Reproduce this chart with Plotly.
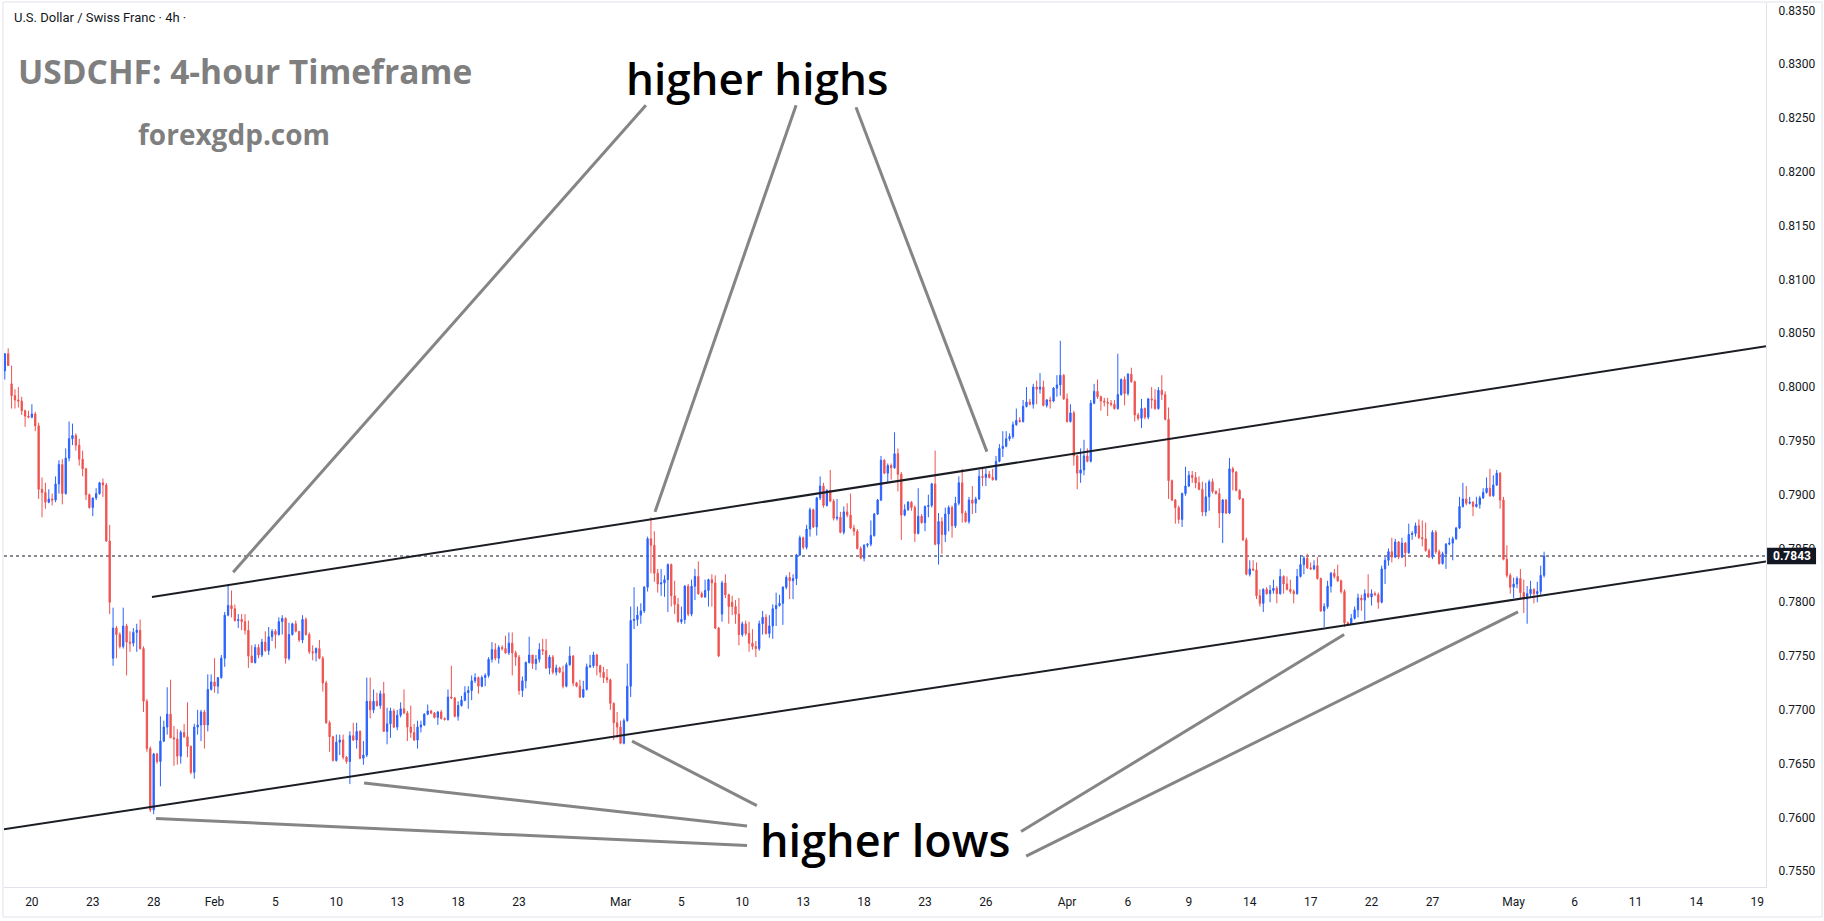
import plotly.graph_objects as go

# ---------------- data (USDCHF 4h candles, price in pips: 7843 -> 0.7843) ----------------
open_pips = [
8015,8031,8003,7992,7988,7987,7978,7973,7972,7975, 7964,7905,7902,7893,7896,7895,7910,7928,7901,7934,
7952,7955,7946,7933,7924,7900,7888,7897,7901,7911, 7909,7857,7748,7776,7770,7759,7778,7763,7762,7772,
7774,7757,7708,7664,7607,7659,7652,7671,7684,7696, 7674,7673,7657,7679,7675,7666,7642,7684,7686,7698,
7686,7719,7726,7722,7730,7748,7788,7797,7794,7783, 7784,7782,7774,7750,7744,7758,7751,7763,7755,7768,
7773,7770,7782,7785,7748,7770,7780,7773,7765,7784, 7770,7754,7753,7757,7748,7725,7688,7675,7653,7670,
7672,7656,7652,7676,7672,7680,7655,7658,7708,7700, 7708,7704,7715,7680,7687,7699,7684,7695,7701,7697,
7684,7679,7672,7684,7686,7696,7699,7697,7693,7698, 7692,7691,7712,7711,7694,7704,7709,7716,7718,7727,
7730,7722,7730,7732,7747,7756,7748,7758,7757,7753, 7762,7753,7749,7718,7727,7744,7751,7743,7747,7756,
7755,7739,7749,7735,7739,7735,7722,7742,7750,7725, 7722,7712,7719,7740,7741,7751,7741,7735,7730,7728,
7706,7688,7684,7669,7690,7722,7783,7784,7788,7792, 7814,7859,7853,7827,7817,7818,7821,7835,7806,7798,
7782,7784,7815,7789,7815,7824,7808,7805,7811,7821, 7818,7776,7789,7818,7807,7800,7796,7789,7770,7780,
7771,7762,7759,7757,7780,7786,7771,7778,7794,7797, 7799,7814,7823,7820,7822,7844,7860,7851,7868,7886,
7870,7897,7908,7890,7904,7894,7878,7879,7865,7884, 7881,7869,7866,7850,7841,7853,7854,7862,7882,7895,
7932,7920,7927,7925,7938,7919,7881,7886,7893,7888, 7864,7880,7874,7889,7890,7910,7854,7875,7863,7882,
7888,7871,7892,7911,7883,7875,7895,7892,7896,7917, 7916,7919,7916,7914,7931,7943,7945,7952,7954,7965,
7969,7968,7982,7986,7984,8000,7998,8000,7983,7988, 7987,7999,8002,8011,7989,7968,7976,7936,7920,7923,
7936,7931,7985,7996,7991,7987,7986,7985,7984,7980, 7993,8007,7994,8012,8005,7974,7971,7980,7972,7989,
7988,7980,7997,7993,7970,7913,7895,7888,7877,7901, 7908,7918,7916,7911,7905,7884,7898,7912,7903,7901,
7883,7895,7883,7924,7921,7904,7896,7858,7826,7831, 7830,7806,7799,7812,7808,7811,7813,7808,7824,7817,
7812,7810,7808,7824,7835,7841,7832,7831,7834,7822, 7792,7796,7815,7827,7824,7820,7810,7781,7780,7785,
7793,7804,7802,7808,7805,7808,7807,7800,7831,7839, 7847,7842,7856,7842,7855,7846,7863,7864,7871,7860,
7859,7848,7842,7865,7847,7836,7845,7854,7855,7859, 7869,7889,7896,7892,7893,7889,7891,7897,7902,7906,
7899,7909,7920,7895,7840,7825,7814,7817,7822,7809, 7803,7808,7812,7808,7810,7825,
]
high_pips = [
8031,8036,8020,7998,8000,7991,7979,7978,7984,7977, 7967,7916,7911,7905,7901,7917,7932,7933,7943,7968,
7966,7957,7952,7941,7925,7901,7897,7906,7912,7915, 7911,7872,7795,7778,7772,7795,7780,7773,7776,7780,
7784,7759,7710,7666,7660,7660,7694,7690,7721,7728, 7685,7682,7681,7687,7707,7667,7687,7700,7700,7700,
7733,7733,7748,7730,7751,7791,7817,7811,7798,7789, 7789,7789,7783,7760,7761,7761,7766,7773,7777,7775,
7775,7786,7788,7786,7781,7781,7783,7773,7788,7786, 7772,7760,7758,7765,7750,7727,7690,7676,7677,7677,
7677,7657,7680,7688,7688,7681,7671,7730,7730,7719, 7716,7718,7726,7702,7702,7701,7700,7707,7719,7699,
7704,7687,7690,7690,7697,7705,7700,7698,7699,7700, 7693,7719,7741,7712,7708,7713,7722,7722,7732,7734,
7731,7732,7734,7749,7763,7762,7760,7760,7769,7772, 7772,7755,7751,7731,7745,7768,7751,7751,7762,7766,
7766,7751,7751,7742,7740,7741,7744,7759,7751,7726, 7728,7727,7743,7751,7754,7752,7742,7740,7738,7729,
7707,7698,7690,7692,7743,7796,7814,7796,7799,7815, 7861,7879,7866,7831,7831,7825,7836,7836,7820,7804,
7796,7816,7817,7821,7831,7838,7810,7821,7822,7826, 7825,7777,7820,7826,7808,7806,7802,7804,7782,7783,
7782,7775,7764,7783,7792,7789,7788,7798,7809,7807, 7815,7825,7828,7826,7845,7862,7861,7872,7888,7887,
7898,7917,7911,7905,7923,7896,7896,7884,7889,7892, 7901,7872,7868,7852,7854,7855,7876,7883,7896,7936,
7933,7929,7929,7958,7943,7921,7891,7894,7894,7890, 7906,7882,7890,7900,7911,7941,7883,7879,7888,7890,
7890,7898,7917,7924,7885,7898,7908,7898,7923,7924, 7924,7922,7924,7936,7947,7959,7959,7957,7968,7980,
7972,7988,8000,7989,8003,8006,8013,8006,7989,7991, 8000,8011,8043,8012,7994,7984,7978,7937,7943,7951,
7943,7988,8003,8007,7992,7990,7990,7988,7988,8031, 8008,8010,8013,8018,8006,7976,7989,7981,7990,8000,
7998,8000,8011,7996,7981,7914,7896,7890,7902,7926, 7922,7922,7921,7917,7912,7911,7914,7915,7904,7906,
7896,7896,7934,7926,7922,7905,7897,7860,7839,7839, 7837,7812,7813,7814,7816,7821,7815,7831,7825,7824,
7821,7812,7831,7844,7843,7845,7837,7839,7842,7823, 7799,7820,7828,7831,7835,7821,7812,7782,7789,7796,
7808,7807,7812,7826,7812,7810,7809,7834,7842,7850, 7860,7859,7857,7860,7856,7873,7866,7874,7877,7876,
7874,7850,7867,7867,7849,7847,7855,7860,7861,7870, 7898,7911,7908,7898,7894,7898,7899,7906,7916,7924,
7918,7923,7921,7898,7853,7827,7823,7824,7831,7821, 7815,7820,7813,7819,7834,7847,
]
low_pips = [
8007,8020,7980,7980,7981,7974,7963,7971,7971,7959, 7896,7879,7887,7892,7890,7893,7901,7891,7900,7931,
7946,7941,7927,7917,7895,7887,7880,7895,7900,7898, 7856,7789,7741,7748,7757,7757,7732,7754,7759,7754,
7756,7698,7661,7605,7603,7650,7629,7670,7677,7674, 7648,7649,7650,7674,7656,7640,7636,7677,7671,7664,
7680,7718,7716,7715,7729,7740,7787,7786,7782,7776, 7774,7770,7739,7744,7743,7748,7749,7754,7751,7764,
7757,7769,7770,7743,7746,7769,7772,7763,7762,7769, 7752,7746,7745,7747,7717,7687,7661,7652,7652,7658,
7654,7650,7631,7671,7664,7654,7649,7656,7692,7697, 7703,7701,7680,7668,7674,7683,7681,7693,7696,7671,
7674,7671,7664,7679,7685,7695,7696,7692,7686,7691, 7690,7690,7710,7693,7690,7703,7708,7701,7709,7725,
7715,7721,7722,7730,7744,7746,7743,7755,7752,7751, 7732,7741,7714,7712,7720,7743,7738,7737,7744,7751,
7738,7733,7733,7732,7734,7720,7721,7741,7722,7721, 7711,7711,7718,7739,7739,7732,7730,7725,7725,7700,
7672,7674,7668,7668,7689,7712,7775,7778,7780,7790, 7810,7827,7819,7809,7806,7805,7791,7796,7789,7781,
7780,7780,7787,7787,7802,7807,7804,7804,7796,7796, 7775,7749,7782,7804,7780,7788,7780,7760,7768,7769,
7754,7756,7749,7755,7770,7770,7767,7766,7778,7796, 7779,7812,7803,7803,7816,7843,7849,7849,7861,7869,
7862,7895,7888,7889,7893,7876,7876,7864,7863,7879, 7868,7862,7849,7840,7838,7851,7852,7861,7881,7894,
7919,7911,7914,7924,7903,7858,7880,7885,7885,7856, 7863,7873,7866,7879,7888,7853,7835,7845,7856,7866,
7860,7869,7890,7874,7874,7873,7882,7883,7895,7908, 7908,7915,7913,7913,7930,7935,7944,7950,7952,7964,
7967,7967,7981,7983,7980,7984,7994,7982,7981,7980, 7986,7991,7992,7988,7967,7967,7927,7905,7911,7918,
7930,7930,7984,7989,7978,7982,7973,7982,7979,7979, 7992,7983,7992,8004,7968,7969,7962,7970,7970,7980,
7979,7979,7988,7969,7896,7894,7873,7873,7870,7899, 7907,7911,7906,7904,7880,7880,7885,7901,7900,7869,
7855,7882,7882,7904,7903,7895,7857,7825,7824,7829, 7803,7796,7791,7807,7800,7808,7799,7807,7808,7811,
7808,7799,7807,7823,7826,7831,7830,7830,7821,7791, 7777,7794,7809,7822,7819,7808,7777,7779,7779,7784,
7786,7792,7783,7804,7797,7806,7794,7799,7817,7834, 7837,7841,7840,7841,7833,7845,7858,7861,7859,7852,
7847,7841,7840,7845,7835,7835,7831,7853,7839,7858, 7868,7888,7890,7891,7880,7888,7887,7896,7901,7898,
7898,7908,7887,7839,7823,7808,7804,7813,7804,7790, 7780,7805,7799,7800,7807,7823,
]
close_pips = [
8031,8020,7992,7988,7987,7978,7973,7972,7975,7964, 7905,7902,7893,7896,7895,7910,7928,7901,7934,7952,
7955,7946,7933,7924,7900,7888,7897,7901,7911,7909, 7857,7800,7776,7770,7759,7778,7763,7762,7772,7774,
7757,7708,7664,7607,7659,7652,7671,7684,7696,7674, 7673,7657,7679,7675,7666,7642,7684,7686,7698,7686,
7719,7726,7722,7730,7748,7788,7797,7794,7783,7784, 7782,7774,7750,7744,7758,7751,7763,7755,7768,7773,
7770,7782,7785,7748,7770,7780,7773,7765,7784,7770, 7754,7753,7757,7748,7725,7688,7675,7653,7670,7672,
7656,7652,7676,7672,7680,7655,7658,7708,7700,7708, 7704,7715,7680,7687,7699,7684,7695,7701,7697,7684,
7679,7672,7684,7686,7696,7699,7697,7693,7698,7692, 7691,7712,7711,7694,7704,7709,7716,7718,7727,7730,
7722,7730,7732,7747,7756,7748,7758,7757,7753,7762, 7753,7749,7718,7727,7744,7751,7743,7747,7756,7755,
7739,7749,7735,7739,7735,7722,7742,7750,7725,7722, 7712,7719,7740,7741,7751,7741,7735,7730,7728,7706,
7688,7684,7669,7690,7722,7783,7784,7788,7792,7814, 7859,7853,7827,7817,7818,7821,7835,7806,7798,7782,
7784,7815,7789,7815,7824,7808,7805,7811,7821,7818, 7776,7750,7818,7807,7796,7796,7789,7770,7780,7771,
7762,7759,7757,7780,7786,7771,7778,7794,7797,7799, 7814,7823,7820,7822,7844,7860,7851,7868,7886,7870,
7897,7908,7890,7904,7894,7878,7879,7865,7884,7881, 7869,7866,7850,7841,7853,7854,7862,7882,7895,7932,
7920,7927,7925,7938,7919,7881,7886,7893,7888,7864, 7880,7874,7889,7890,7910,7854,7875,7863,7882,7888,
7871,7892,7911,7883,7875,7895,7892,7896,7917,7916, 7919,7916,7914,7931,7943,7945,7952,7954,7965,7969,
7968,7982,7986,7984,8000,7998,8000,7983,7988,7987, 7999,8002,8011,7989,7968,7976,7936,7920,7923,7936,
7931,7985,7996,7991,7987,7986,7985,7984,7980,7993, 8007,7994,8012,8005,7974,7971,7980,7972,7989,7988,
7980,7997,7993,7970,7913,7895,7888,7877,7901,7908, 7918,7916,7911,7905,7884,7898,7912,7903,7901,7883,
7895,7883,7924,7921,7904,7896,7858,7826,7831,7830, 7806,7799,7812,7808,7811,7813,7808,7824,7817,7812,
7810,7808,7824,7835,7841,7832,7831,7834,7822,7792, 7796,7815,7827,7824,7820,7810,7781,7780,7785,7793,
7804,7802,7808,7805,7808,7807,7800,7831,7839,7847, 7842,7856,7842,7855,7846,7863,7864,7871,7860,7859,
7848,7842,7865,7847,7836,7845,7854,7855,7859,7869, 7889,7896,7892,7893,7889,7891,7897,7902,7906,7899,
7909,7920,7895,7840,7825,7814,7817,7822,7809,7803, 7808,7812,7808,7810,7825,7843,
]

# time axis: tick positions in bar index, and their labels
tick_bars = [8, 26, 44, 62, 80, 98, 116, 134, 152, 182, 200, 218, 236, 254, 272, 290,
             314, 332, 350, 368, 386, 404, 422, 446, 464, 482, 500, 518]
tick_labels = ["20", "23", "28", "Feb", "5", "10", "13", "18", "23", "Mar", "5", "10", "13", "18", "23", "26",
               "Apr", "6", "9", "14", "17", "22", "27", "May", "6", "11", "14", "19"]

price_ticks = [0.7550, 0.7600, 0.7650, 0.7700, 0.7750, 0.7800, 0.7850, 0.7900, 0.7950,
               0.8000, 0.8050, 0.8100, 0.8150, 0.8200, 0.8250, 0.8300, 0.8350]
last_price = 0.7843

# drawn trend channel (bar index, price)
channel_upper = [(43.5, 0.7805), (520.6, 0.8038)]
channel_lower = [(-0.3, 0.7589), (520.6, 0.7838)]
# pointer lines for the text labels (bar index, price)
pointer_lines = [
    [(189.5, 0.8262), (67.5, 0.7828)],
    [(233.9, 0.8262), (192.2, 0.7884)],
    [(251.6, 0.8260), (290.3, 0.7940)],
    [(44.7, 0.7599), (219.4, 0.7574)],
    [(106.2, 0.7632), (219.4, 0.7592)],
    [(185.4, 0.7671), (222.3, 0.7611)],
    [(300.4, 0.7587), (395.9, 0.7770)],
    [(301.9, 0.7564), (447.3, 0.7791)],
]

# ---------------- figure ----------------
n = min(len(open_pips), len(high_pips), len(low_pips), len(close_pips))
o = [v / 10000 for v in open_pips[:n]]
c = [v / 10000 for v in close_pips[:n]]
h = [max(a, b, d) / 10000 for a, b, d in zip(high_pips[:n], open_pips[:n], close_pips[:n])]
l = [min(a, b, d) / 10000 for a, b, d in zip(low_pips[:n], open_pips[:n], close_pips[:n])]
x = list(range(n))

UP = "#2962FF"
DOWN = "#EF5350"
TXT = "#131722"
GRID = "#E0E3EB"

fig = go.Figure()
fig.add_trace(go.Candlestick(
    x=x, open=o, high=h, low=l, close=c,
    increasing=dict(line=dict(color=UP, width=1), fillcolor=UP),
    decreasing=dict(line=dict(color=DOWN, width=1), fillcolor=DOWN),
    whiskerwidth=0, showlegend=False, hoverinfo="skip",
))

shapes = []
# last price dotted line
shapes.append(dict(type="line", xref="paper", yref="y", x0=0, x1=1, y0=last_price, y1=last_price,
                    line=dict(color=TXT, width=1, dash="dot"), layer="below"))
# channel
for seg in (channel_upper, channel_lower):
    shapes.append(dict(type="line", xref="x", yref="y", x0=seg[0][0], y0=seg[0][1], x1=seg[1][0], y1=seg[1][1],
                       line=dict(color="#1b1d24", width=2)))
for seg in pointer_lines:
    shapes.append(dict(type="line", xref="x", yref="y", x0=seg[0][0], y0=seg[0][1], x1=seg[1][0], y1=seg[1][1],
                       line=dict(color="#858585", width=3)))
# price label box on axis
shapes.append(dict(type="rect", xref="paper", yref="y", x0=1.0006, x1=1.0284,
                   y0=last_price - 0.00077, y1=last_price + 0.00077,
                   fillcolor=TXT, line=dict(width=0), layer="above"))
# outer frame
shapes.append(dict(type="rect", xref="paper", yref="paper", x0=-0.0006, x1=1.0318, y0=-0.0339, y1=1.0011,
                   line=dict(color=GRID, width=1), fillcolor="rgba(0,0,0,0)", layer="above"))

annotations = [
    dict(text="U.S. Dollar / Swiss Franc · 4h ·", x=2.1, y=0.83439, xref="x", yref="y",
         xanchor="left", yanchor="middle", showarrow=False,
         font=dict(family="Roboto, Liberation Sans, sans-serif", size=13, color=TXT)),
    dict(text="USDCHF: 4-hour Timeframe", x=3.3, y=0.82935, xref="x", yref="y",
         xanchor="left", yanchor="middle", showarrow=False,
         font=dict(family="Open Sans, sans-serif", size=33.5, color="#7F7F7F", weight=700)),
    dict(text="forexgdp.com", x=38.8, y=0.82350, xref="x", yref="y",
         xanchor="left", yanchor="middle", showarrow=False,
         font=dict(family="Open Sans, sans-serif", size=28, color="#7F7F7F", weight=700)),
    dict(text="higher highs", x=183.0, y=0.82872, xref="x", yref="y",
         xanchor="left", yanchor="middle", showarrow=False,
         font=dict(family="Open Sans, sans-serif", size=44, color="#000000", weight=600)),
    dict(text="higher lows", x=222.5, y=0.75791, xref="x", yref="y",
         xanchor="left", yanchor="middle", showarrow=False,
         font=dict(family="Open Sans, sans-serif", size=45, color="#000000", weight=600)),
    dict(text="0.7843", x=1.0145, y=last_price, xref="paper", yref="y",
         xanchor="center", yanchor="middle", showarrow=False,
         font=dict(family="Roboto, Liberation Sans, sans-serif", size=12, color="#FFFFFF", weight=700)),
]

fig.update_layout(
    width=1824, height=921,
    margin=dict(l=4, r=58, t=3, b=34),
    paper_bgcolor="#FFFFFF", plot_bgcolor="#FFFFFF",
    showlegend=False,
    boxgap=0.45,
    shapes=shapes,
    annotations=annotations,
    xaxis=dict(
        range=[-0.24, 520.6], rangeslider=dict(visible=False),
        tickmode="array", tickvals=tick_bars, ticktext=tick_labels,
        showgrid=False, zeroline=False, showline=True, linecolor=GRID, linewidth=1,
        ticks="", tickfont=dict(family="Roboto, Liberation Sans, sans-serif", size=12, color=TXT),
        ticklabelstandoff=4, fixedrange=True,
    ),
    yaxis=dict(
        side="right", range=[0.753538, 0.835694],
        tickmode="array", tickvals=price_ticks, ticktext=[f"{v:.4f}" for v in price_ticks],
        showgrid=False, zeroline=False, showline=True, linecolor=GRID, linewidth=1,
        ticks="", tickfont=dict(family="Roboto, Liberation Sans, sans-serif", size=12, color=TXT),
        ticklabelstandoff=9, fixedrange=True,
    ),
)

fig.write_html("out.html", config={"displayModeBar": False})
